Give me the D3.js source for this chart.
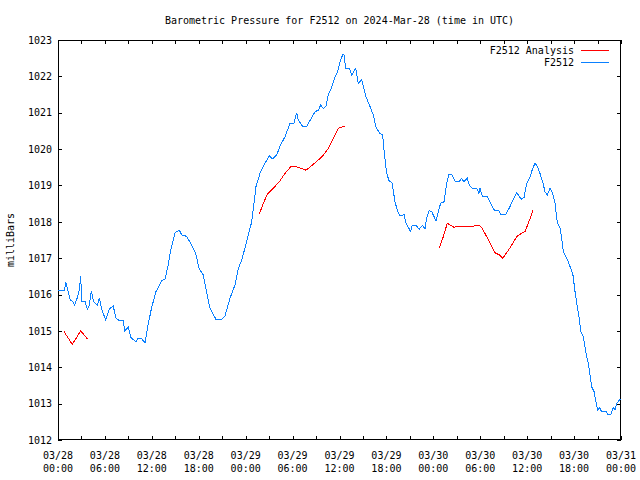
<!DOCTYPE html>
<html><head><meta charset="utf-8">
<script src="https://cdn.jsdelivr.net/npm/d3@7"></script>
<style>
body{margin:0;background:#fff;}
svg{display:block;}
text{font-family:"DejaVu Sans Mono","Liberation Mono",monospace;font-size:10px;fill:#000;}
</style></head><body>
<svg id="chart" width="640" height="480"></svg>
<script>
const title = "Barometric Pressure for F2512 on 2024-Mar-28 (time in UTC)";
const yLabel = "milliBars";
const startTime = Date.UTC(2024, 2, 28, 0, 0);
const yTicks = [1012,1013,1014,1015,1016,1017,1018,1019,1020,1021,1022,1023];
const seriesNames = ["F2512 Analysis", "F2512"];
const seriesColors = ["#ff0000", "#0a80ff"];

// F2512 observed: hours since 03/28 00:00 UTC, pressure mb
const obsHours = [0,0.77,1.02,1.3,1.6,1.87,2.13,2.51,2.73,2.9,3.03,3.45,3.75,4.0,4.26,4.52,5.03,5.28,5.63,6.1,6.56,7.07,7.37,7.72,8.35,8.53,9.0,9.3,9.97,10.27,10.7,11.13,11.46,11.98,12.53,13.26,13.68,14.1,14.41,14.96,15.52,15.82,16.46,17.1,17.61,18.03,18.58,19.0,19.44,20.2,20.93,21.36,22.0,22.63,23.06,23.49,23.9,24.3,24.77,25.07,25.32,25.83,26.34,27.03,27.41,27.97,28.39,29.03,29.67,30.18,30.52,30.73,31.29,31.8,32.31,32.87,33.29,33.6,33.93,34.27,34.57,35.0,35.42,35.77,36.06,36.4,36.57,36.79,37.25,37.56,38.07,38.4,38.84,39.39,39.9,40.32,40.67,41.18,41.52,41.73,42.04,42.33,42.71,43.1,43.39,43.73,43.95,44.25,44.5,44.8,45.1,45.3,45.78,46.2,46.63,46.93,47.15,47.48,47.79,48.34,48.63,48.94,49.36,49.71,50.0,50.35,50.77,51.32,51.63,51.92,52.34,52.6,53.03,53.54,53.84,53.97,54.26,54.82,55.25,55.8,56.31,56.62,57.3,57.8,58.32,58.66,59.09,59.3,59.6,59.94,60.36,60.71,61.0,61.3,61.64,61.98,62.28,62.57,62.92,63.26,63.56,63.77,63.98,64.2,64.41,64.63,64.93,65.26,65.57,65.83,66.12,66.34,66.63,66.85,67.18,67.53,67.82,68.04,68.26,68.55,68.8,69.03,69.23,69.53,70.08,70.3,70.72,71.02,71.23,71.45,71.78,72.0];
const obsPressure = [1016.10,1016.10,1016.33,1016.08,1015.83,1015.82,1015.71,1015.94,1016.14,1016.51,1015.82,1015.81,1015.60,1015.71,1016.10,1015.82,1015.71,1015.90,1015.57,1015.30,1015.60,1015.69,1015.37,1015.30,1015.30,1015.00,1015.10,1014.82,1014.70,1014.80,1014.78,1014.68,1015.10,1015.65,1016.08,1016.38,1016.42,1016.81,1017.22,1017.70,1017.77,1017.64,1017.60,1017.36,1017.13,1016.72,1016.54,1016.08,1015.62,1015.32,1015.32,1015.41,1015.90,1016.26,1016.72,1016.95,1017.27,1017.60,1018.00,1018.51,1018.97,1019.33,1019.56,1019.81,1019.73,1019.84,1020.08,1020.34,1020.71,1020.71,1021.00,1020.80,1020.62,1020.62,1020.82,1021.03,1021.07,1021.21,1021.12,1021.17,1021.49,1021.70,1021.99,1022.13,1022.40,1022.59,1022.61,1022.22,1022.22,1022.04,1022.22,1021.81,1021.90,1021.44,1021.17,1020.94,1020.60,1020.43,1020.40,1019.88,1019.33,1019.13,1019.08,1018.55,1018.32,1018.17,1018.16,1018.20,1017.97,1017.85,1017.73,1017.90,1017.90,1017.80,1017.90,1017.80,1018.10,1018.31,1018.28,1018.03,1018.28,1018.51,1018.55,1019.06,1019.31,1019.31,1019.12,1019.12,1019.19,1019.10,1019.20,1019.01,1018.92,1018.92,1018.78,1018.92,1018.71,1018.71,1018.55,1018.32,1018.32,1018.21,1018.21,1018.42,1018.65,1018.81,1018.67,1018.62,1018.67,1019.06,1019.24,1019.47,1019.61,1019.53,1019.33,1019.10,1018.83,1018.74,1018.92,1018.78,1018.51,1018.10,1017.91,1017.84,1017.55,1017.18,1017.04,1016.90,1016.72,1016.58,1016.08,1015.76,1015.39,1014.98,1014.84,1014.38,1014.11,1013.79,1013.46,1013.33,1013.05,1012.82,1012.90,1012.78,1012.78,1012.71,1012.71,1012.90,1012.82,1013.00,1013.10,1013.12];

// F2512 Analysis (null = gap)
const anaHours = [0.77,1.83,2.9,3.8, 15, 25.74,26.17,26.77,27.54,28.39,29.03,29.8,30.3,30.73,31.72,32.31,33.08,33.84,34.57,35.21,35.85,36.19,36.75, 42, 48.76,49.27,49.78,50.64,51.32,52.26,53.1,53.75,54.18,54.82,55.46,55.88,56.43,56.87,57.38,58.02,58.66,59.09,59.72,60.15,60.79];
const anaPressure = [1014.98,1014.63,1015.0,1014.77, null, 1018.21,1018.46,1018.76,1018.92,1019.13,1019.33,1019.52,1019.52,1019.50,1019.42,1019.52,1019.66,1019.81,1020.02,1020.30,1020.57,1020.60,1020.63, null, 1017.27,1017.59,1017.96,1017.85,1017.88,1017.88,1017.88,1017.91,1017.85,1017.59,1017.33,1017.15,1017.09,1017.00,1017.15,1017.36,1017.59,1017.66,1017.73,1017.96,1018.34];

const svg = d3.select("#chart");
const L = 58, R = 621, T = 40, B = 440;
const HOUR = 3600e3;
const t0 = new Date(startTime), t1 = new Date(startTime + 72*HOUR);
const x = d3.scaleUtc().domain([t0, t1]).range([L, R]);
const y = d3.scaleLinear().domain([1012, 1023]).range([B, T]);

const minorTicks = d3.range(0, 73, 3).map(h => new Date(startTime + h*HOUR));
const fmtD = d3.utcFormat("%m/%d"), fmtT = d3.utcFormat("%H:%M");

function styleAxis(g){ g.select(".domain").remove(); g.selectAll("line").attr("stroke","#000").attr("shape-rendering","crispEdges"); }

svg.append("g").attr("transform",`translate(0,${B})`)
  .call(d3.axisBottom(x).tickValues(minorTicks).tickSize(-4).tickFormat(""))
  .call(styleAxis);
svg.append("g").attr("transform",`translate(0,${T})`)
  .call(d3.axisTop(x).tickValues(minorTicks).tickSize(-4).tickFormat(""))
  .call(styleAxis);
svg.append("g").attr("transform",`translate(${L},0)`)
  .call(d3.axisLeft(y).tickValues(yTicks).tickSize(-4).tickFormat(""))
  .call(styleAxis);
svg.append("g").attr("transform",`translate(${R},0)`)
  .call(d3.axisRight(y).tickValues(yTicks).tickSize(-4).tickFormat(""))
  .call(styleAxis);

// y labels
svg.append("g").selectAll("text").data(yTicks).join("text")
  .attr("x", L-6).attr("y", d => y(d)+3.7).attr("text-anchor","end").text(d => d);
// x labels
const majors = d3.range(0, 73, 6).map(h => new Date(startTime + h*HOUR));
const xl = svg.append("g").selectAll("g").data(majors).join("g");
xl.append("text").attr("x", d => x(d)).attr("y", 458.5).attr("text-anchor","middle").text(d => fmtD(d));
xl.append("text").attr("x", d => x(d)).attr("y", 472).attr("text-anchor","middle").text(d => fmtT(d));

// frame
svg.append("rect").attr("x",L+0.5).attr("y",T+0.5).attr("width",R-L-1).attr("height",B-T-1)
  .attr("fill","none").attr("stroke","#000").attr("shape-rendering","crispEdges");

// title & y label
svg.append("text").attr("x", 339.5).attr("y", 23.5).attr("text-anchor","middle").text(title);
svg.append("text").attr("transform","translate(13.5,240) rotate(-90)").attr("text-anchor","middle").text(yLabel);

const line = d3.line().defined(d => d[1] !== null).x(d => x(new Date(startTime + d[0]*HOUR))).y(d => y(d[1]));
const obs = obsHours.map((h,i) => [h, obsPressure[i]]);
const ana = anaHours.map((h,i) => [h, anaPressure[i]]);

svg.append("path").datum(ana).attr("d", line).attr("fill","none").attr("stroke",seriesColors[0]).attr("stroke-width",1).attr("shape-rendering","crispEdges");
svg.append("path").datum(obs).attr("d", line).attr("fill","none").attr("stroke",seriesColors[1]).attr("stroke-width",1).attr("shape-rendering","crispEdges");

// legend
const leg = svg.append("g");
seriesNames.forEach((n,i) => {
  const yy = 50 + i*12;
  leg.append("text").attr("x", 574).attr("y", yy+3.5).attr("text-anchor","end").text(n);
  leg.append("line").attr("x1",581).attr("x2",609).attr("y1",yy+0.5).attr("y2",yy+0.5).attr("stroke",seriesColors[i]).attr("stroke-width",1).attr("shape-rendering","crispEdges");
});
</script>
</body></html>
